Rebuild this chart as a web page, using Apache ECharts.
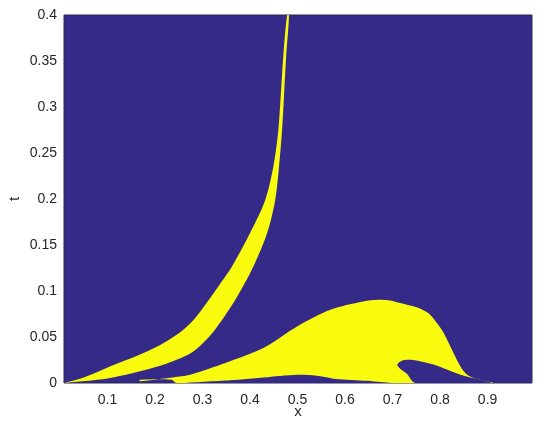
<!DOCTYPE html>
<html>
<head>
<meta charset="utf-8">
<script src="https://cdn.jsdelivr.net/npm/echarts@6/dist/echarts.min.js"></script>
<style>html,body{margin:0;padding:0;background:#fff}#c{width:550px;height:433px}</style>
</head>
<body>
<div id="c"></div>
<script>
// Axis tick labels
var xTicks = [0.1, 0.2, 0.3, 0.4, 0.5, 0.6, 0.7, 0.8, 0.9];
var xRange = [0.0084, 0.9935];
var tRange = [0, 0.4];

// Yellow region 1: left wedge (upper-left edge and lower-right edge, bottom to top)
var wedgeLeftX  = [0.0084, 0.05, 0.105, 0.16, 0.21, 0.25, 0.28, 0.31, 0.34, 0.362, 0.400, 0.432, 0.449, 0.459, 0.464, 0.470, 0.478];
var wedgeLeftT  = [0, 0.006, 0.018, 0.029, 0.041, 0.054, 0.068, 0.088, 0.11, 0.1266, 0.163, 0.199, 0.235, 0.272, 0.307, 0.355, 0.4];
var wedgeRightX = [0.0084, 0.1, 0.168, 0.224, 0.274, 0.30, 0.325, 0.369, 0.407, 0.436, 0.453, 0.461, 0.467, 0.471, 0.476, 0.482];
var wedgeRightT = [0, 0.005, 0.0128, 0.021, 0.032, 0.043, 0.057, 0.0905, 0.1266, 0.163, 0.199, 0.235, 0.272, 0.307, 0.355, 0.4];

// Yellow region 2: lobe (outline, left tip -> top -> tail -> along bottom)
var lobeX = [0.168, 0.22, 0.274, 0.322, 0.358, 0.428, 0.499, 0.569, 0.638, 0.67, 0.695, 0.716, 0.752, 0.775, 0.792, 0.807, 0.828, 0.843, 0.857, 0.88, 0.91, 0.245, 0.235, 0.168];
var lobeT = [0.002, 0.005, 0.009, 0.017, 0.0236, 0.038, 0.0615, 0.0797, 0.0887, 0.0905, 0.0898, 0.087, 0.082, 0.076, 0.066, 0.055, 0.033, 0.018, 0.009, 0.004, 0, 0, 0.0035, 0.0035];

// Blue region: bump along bottom under the lobe
var bumpX = [0.27, 0.358, 0.428, 0.499, 0.54, 0.587, 0.657, 0.695];
var bumpT = [0, 0.003, 0.006, 0.009, 0.008, 0.004, 0.002, 0];

// Blue region: hole inside the lobe tail
var holeX = [0.710, 0.722, 0.743, 0.786, 0.843, 0.906, 0.906, 0.748, 0.73, 0.715];
var holeT = [0.020, 0.0246, 0.025, 0.020, 0.009, 0.001, 0, 0, 0.01, 0.016];

var YELLOW = '#F9FB0E', BLUE = '#352A87';
var shapes = [
  {x: wedgeLeftX.concat(wedgeRightX.slice().reverse()), t: wedgeLeftT.concat(wedgeRightT.slice().reverse()), c: YELLOW},
  {x: lobeX, t: lobeT, c: YELLOW},
  {x: bumpX, t: bumpT, c: BLUE},
  {x: holeX, t: holeT, c: BLUE}
];

var chart = echarts.init(document.getElementById('c'), null, {renderer: 'canvas'});
var labelStyle = {color: '#262626', fontSize: 14, fontFamily: 'Liberation Sans, Arial, sans-serif'};
chart.setOption({
  animation: false,
  grid: {left: 64, right: 18, top: 15, bottom: 50, containLabel: false, outerBoundsMode: 'none',
         show: true, backgroundColor: BLUE, borderColor: '#2b2b4f', borderWidth: 1},
  xAxis: {
    type: 'value', min: xRange[0], max: xRange[1],
    name: 'x', nameLocation: 'middle', nameGap: 21, nameMoveOverlap: false,
    nameTextStyle: {color: '#262626', fontSize: 15, fontFamily: 'Liberation Sans, Arial, sans-serif'},
    axisLine: {show: false}, axisTick: {show: false}, splitLine: {show: false},
    axisLabel: Object.assign({customValues: xTicks, margin: 10, formatter: function (v) { return String(+v.toFixed(2)); }}, labelStyle)
  },
  yAxis: {
    type: 'value', min: tRange[0], max: tRange[1], interval: 0.05,
    name: 't', nameLocation: 'middle', nameGap: 42, nameRotate: 90, nameMoveOverlap: false,
    nameTextStyle: {color: '#262626', fontSize: 15, fontFamily: 'Liberation Sans, Arial, sans-serif'},
    axisLine: {show: false}, axisTick: {show: false}, splitLine: {show: false},
    axisLabel: Object.assign({margin: 7}, labelStyle)
  },
  series: [{
    type: 'custom',
    clip: true,
    data: shapes.map(function (s, i) { return [i]; }),
    renderItem: function (params, api) {
      var s = shapes[params.dataIndex];
      var pts = s.x.map(function (x, i) { return api.coord([x, s.t[i]]); });
      return {type: 'polygon', shape: {points: pts, smooth: 0.3}, style: {fill: s.c, stroke: null}};
    }
  }]
});
</script>
</body>
</html>
